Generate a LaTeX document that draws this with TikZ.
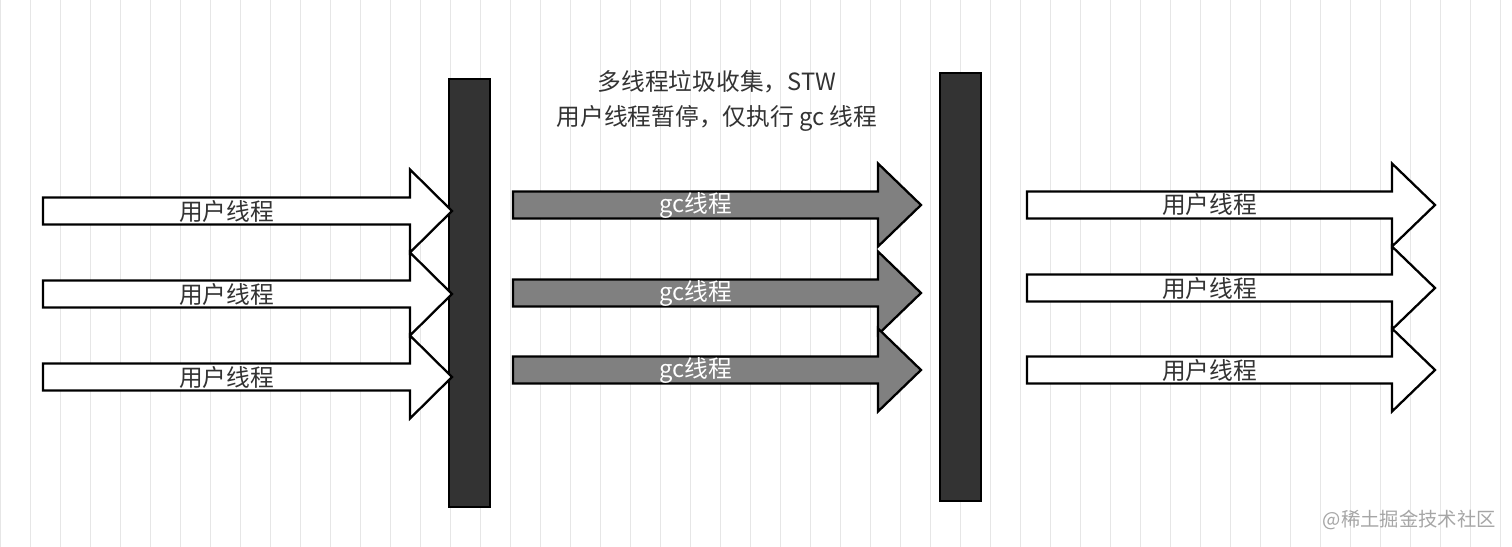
\documentclass[tikz,border=0pt]{standalone}
\usepackage{fontspec}
\setmainfont{Noto Sans CJK SC}
\usetikzlibrary{positioning}
\definecolor{barcol}{HTML}{333333}
\definecolor{gccol}{HTML}{808080}
\definecolor{gridcol}{HTML}{E6E6E6}
% arrow: x0, x1 (head start), x2 (tip), y centre, fill, name, label, label colour
\newcommand\flowarrow[8]{%
  \draw[arrowline, fill=#5] (#1, #4-13.5) -- (#2, #4-13.5) -- (#2, #4-41.5) -- (#3, #4)
    -- (#2, #4+41.5) -- (#2, #4+13.5) -- (#1, #4+13.5) -- cycle;
  \node[lbl, text=#8] (#6) at ({(#1+#2)/2}, #4) {#7}
}
\tikzset{
  arrowline/.style={line width=1.3pt, draw=black},
  lbl/.style={font=\fontsize{13.5}{16}\selectfont, inner sep=0pt},
  bar/.style={fill=barcol, draw=black, line width=0.8pt}
}
\begin{document}
\begin{tikzpicture}[x=0.02cm, y=-0.02cm]
  \useasboundingbox (0,0) rectangle (1512,547);
  % Background grid
  \fill[white] (0,0) rectangle (1512,547);
  \draw[gridcol, line width=0.5pt, step=30] (0,0) grid (1512,547);

  % The bars
  \draw[bar] (449,79) rectangle (490,507);
  \draw[bar] (940,73) rectangle (981,501);

  % Caption
  \node[lbl, align=center, text=barcol] (stw) at (717,101)
    {多线程垃圾收集，STW\\[4pt]用户线程暂停，仅执行 gc 线程};

  % User threads before
  \flowarrow{43}{410}{452}{211}{white}{userA}{用户线程}{barcol};
  \flowarrow{43}{410}{452}{294}{white}{userB}{用户线程}{barcol};
  \flowarrow{43}{410}{452}{377}{white}{userC}{用户线程}{barcol};

  % GC threads
  \flowarrow{513}{878}{921}{205}{gccol}{gcA}{gc线程}{white};
  \flowarrow{513}{878}{921}{293}{gccol}{gcB}{gc线程}{white};
  \flowarrow{513}{878}{921}{370}{gccol}{gcC}{gc线程}{white};

  % User threads after
  \flowarrow{1027}{1392}{1435}{205}{white}{userD}{用户线程}{barcol};
  \flowarrow{1027}{1392}{1435}{288}{white}{userE}{用户线程}{barcol};
  \flowarrow{1027}{1392}{1435}{370}{white}{userF}{用户线程}{barcol};

  % Watermark
  \node[lbl, text=gray!70, font=\fontsize{11}{13}\selectfont, anchor=east] (mark) at (1496,520) {@稀土掘金技术社区};
\end{tikzpicture}
\end{document}
